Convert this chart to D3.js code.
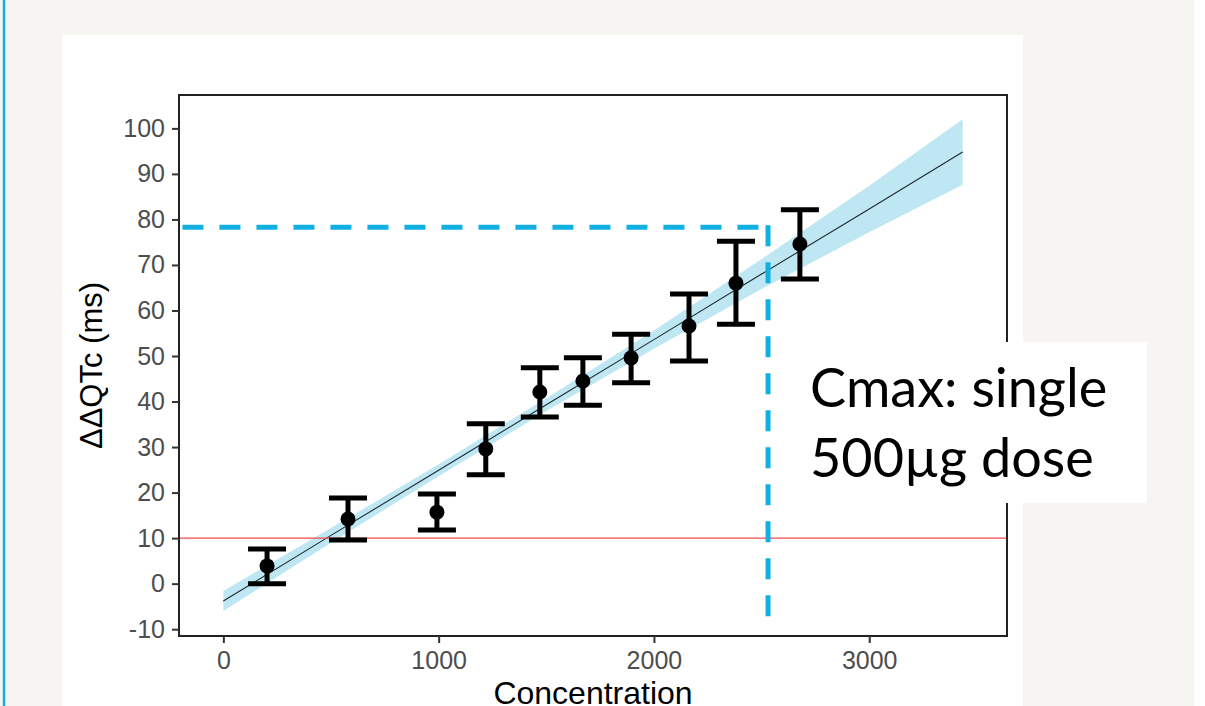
<!DOCTYPE html>
<html>
<head>
<meta charset="utf-8">
<script src="https://cdn.jsdelivr.net/npm/d3@7"></script>
<style>
  body { margin: 0; background: #f6f5f1; }
  svg { display: block; }
</style>
</head>
<body>
<div id="chart"></div>
<script>
// concentration / ddQTc bins (mean with 90% CI)
const binConc = [203, 579, 992, 1219, 1470, 1670, 1894, 2163, 2381, 2678];
const binMean = [3.9, 14.2, 15.7, 29.6, 42.1, 44.5, 49.6, 56.6, 66.0, 74.6];
const binLower = [0.0, 9.6, 11.8, 23.9, 36.6, 39.2, 44.1, 48.9, 57.0, 66.9];
const binUpper = [7.6, 18.8, 19.7, 35.1, 47.4, 49.6, 54.8, 63.6, 75.2, 82.1];

// model prediction + ribbon
const fitConc = [0, 500, 1000, 1500, 2000, 2500, 3000, 3434];
const fitPred = [-3.8, 10.6, 24.9, 39.3, 53.6, 68.0, 82.3, 94.8];
const fitLower = [-6.0, 9.0, 23.6, 37.9, 51.6, 64.7, 77.2, 87.6];
const fitUpper = [-1.6, 12.2, 26.2, 40.7, 55.6, 71.3, 87.4, 102.0];

const xTicks = [0, 1000, 2000, 3000];
const yTicks = [-10, 0, 10, 20, 30, 40, 50, 60, 70, 80, 90, 100];
const threshold = 10;

// Cmax annotation
const cmaxConc = 2530;
const cmaxQT = 78.3;
const annotLines = ["Cmax: single", "500\u00b5g dose"];

const W = 1205, H = 706;
const margin = {top: 95, right: 198, bottom: 70, left: 179};

const svg = d3.select("#chart")
    .append("svg")
    .attr("width", W)
    .attr("height", H);

// slide background
svg.append("rect").attr("width", W).attr("height", H).attr("fill", "#f6f5f1");
svg.append("rect").attr("x", 1194).attr("width", W - 1194).attr("height", H).attr("fill", "#ffffff");
svg.append("line")
    .attr("x1", 4).attr("x2", 4).attr("y1", 0).attr("y2", H)
    .attr("stroke", "#14aedf").attr("stroke-width", 2.5);
svg.append("rect")
    .attr("x", 62).attr("y", 35).attr("width", 961).attr("height", H - 35)
    .attr("fill", "#ffffff");

const x = d3.scaleLinear().domain([-206, 3640]).range([margin.left, W - margin.right]);
const y = d3.scaleLinear().domain([-11.5, 107.33]).range([H - margin.bottom, margin.top]);

const g = svg.append("g");

// ribbon
const ribbon = fitConc.map((c, i) => ({c: c, lo: fitLower[i], hi: fitUpper[i], p: fitPred[i]}));
g.append("path")
    .datum(ribbon)
    .attr("fill", "#bfe7f3")
    .attr("d", d3.area().x(d => x(d.c)).y0(d => y(d.lo)).y1(d => y(d.hi)));

g.append("path")
    .datum(ribbon)
    .attr("fill", "none")
    .attr("stroke", "#1e2a30")
    .attr("stroke-width", 1.1)
    .attr("d", d3.line().x(d => x(d.c)).y(d => y(d.p)));

// threshold line
g.append("line")
    .attr("x1", x.range()[0]).attr("x2", x.range()[1])
    .attr("y1", y(threshold)).attr("y2", y(threshold))
    .attr("stroke", "#f24b4b").attr("stroke-width", 1.3);

// error bars
const bins = binConc.map((c, i) => ({c: c, m: binMean[i], lo: binLower[i], hi: binUpper[i]}));
const capW = 19;
const eb = g.selectAll(".eb").data(bins).join("g").attr("class", "eb")
    .attr("stroke", "#000").attr("stroke-width", 5);
eb.append("line")
    .attr("x1", d => x(d.c)).attr("x2", d => x(d.c))
    .attr("y1", d => y(d.lo)).attr("y2", d => y(d.hi));
eb.append("line")
    .attr("x1", d => x(d.c) - capW).attr("x2", d => x(d.c) + capW)
    .attr("y1", d => y(d.hi)).attr("y2", d => y(d.hi));
eb.append("line")
    .attr("x1", d => x(d.c) - capW).attr("x2", d => x(d.c) + capW)
    .attr("y1", d => y(d.lo)).attr("y2", d => y(d.lo));
g.selectAll(".pt").data(bins).join("circle").attr("class", "pt")
    .attr("cx", d => x(d.c)).attr("cy", d => y(d.m)).attr("r", 7.5)
    .attr("fill", "#000");

// panel border
svg.append("rect")
    .attr("x", margin.left).attr("y", margin.top)
    .attr("width", x.range()[1] - margin.left)
    .attr("height", y.range()[0] - margin.top)
    .attr("fill", "none").attr("stroke", "#222").attr("stroke-width", 2);

// axes (plain integer labels, ascii minus like ggplot)
const yAxis = svg.append("g")
    .attr("transform", `translate(${margin.left},0)`)
    .call(d3.axisLeft(y).tickValues(yTicks).tickSize(7).tickPadding(7).tickFormat(d => String(d)));
const xAxis = svg.append("g")
    .attr("transform", `translate(0,${y.range()[0]})`)
    .call(d3.axisBottom(x).tickValues(xTicks).tickSize(7).tickPadding(8).tickFormat(d => String(d)));
[xAxis, yAxis].forEach(a => {
    a.select(".domain").remove();
    a.selectAll(".tick line").attr("stroke", "#333").attr("stroke-width", 2);
    a.selectAll(".tick text")
        .attr("fill", "#4d4d4d")
        .style("font-family", "'Liberation Sans', Arial, sans-serif")
        .style("font-size", "25px");
});

svg.append("text")
    .text("Concentration")
    .attr("x", (x.range()[0] + x.range()[1]) / 2)
    .attr("y", 704)
    .attr("text-anchor", "middle")
    .style("font-family", "'Liberation Sans', Arial, sans-serif")
    .style("font-size", "32px")
    .attr("fill", "#000");

svg.append("text")
    .text("\u0394\u0394QTc (ms)")
    .attr("transform", `translate(102,${(y.range()[0] + y.range()[1]) / 2}) rotate(-90)`)
    .attr("text-anchor", "middle")
    .style("font-family", "'Liberation Sans', Arial, sans-serif")
    .style("font-size", "31px")
    .attr("fill", "#000");

// Cmax dashed guide
const dashCol = "#10b0e2";
svg.append("line")
    .attr("x1", x(-190)).attr("x2", x(cmaxConc) + 2)
    .attr("y1", y(cmaxQT)).attr("y2", y(cmaxQT))
    .attr("stroke", dashCol).attr("stroke-width", 5)
    .attr("stroke-dasharray", "21,16");
svg.append("line")
    .attr("x1", x(cmaxConc)).attr("x2", x(cmaxConc))
    .attr("y1", y(cmaxQT) - 2).attr("y2", y(-7.5))
    .attr("stroke", dashCol).attr("stroke-width", 5)
    .attr("stroke-dasharray", "21,16");

// text box
svg.append("rect")
    .attr("x", 788).attr("y", 342).attr("width", 1147 - 788).attr("height", 503 - 342)
    .attr("fill", "#ffffff");
svg.selectAll(".annot").data(annotLines).join("text").attr("class", "annot")
    .attr("x", 810)
    .attr("y", (d, i) => 407 + i * 70)
    .text(d => d)
    .style("font-family", "Lato, 'Open Sans', sans-serif")
    .style("font-size", "54px")
    .attr("fill", "#000");
</script>
</body>
</html>
